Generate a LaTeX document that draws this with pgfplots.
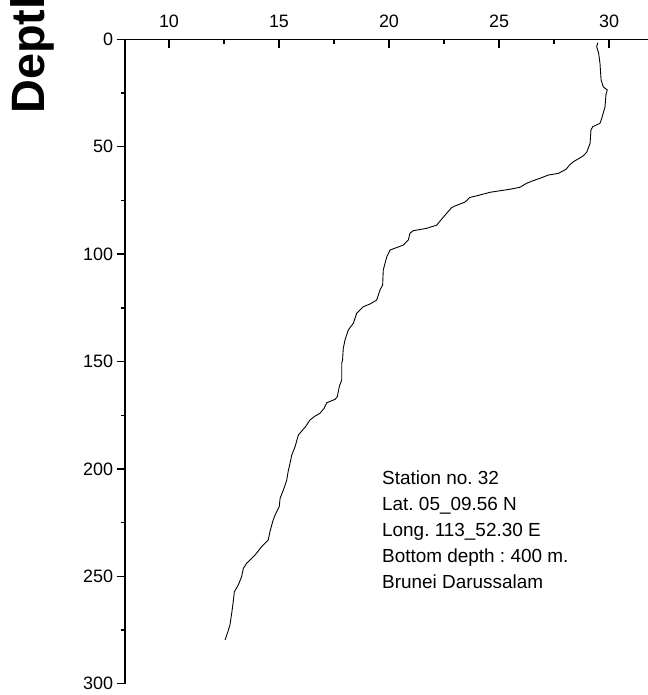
\documentclass[border=0pt]{standalone}
\usepackage{fontspec}
\setmainfont{Liberation Sans}
\usepackage{pgfplots}
\pgfplotsset{compat=1.18}
\usepackage{pgfplotstable}
\frenchspacing

% CTD temperature profile: temperature (deg C) against depth (m)
\pgfplotstableread{
T d
29.49 1.6
29.44 3.4
29.53 6.5
29.59 11.2
29.64 18.9
29.74 22.1
29.92 23.6
29.86 25.9
29.82 31.4
29.67 36.8
29.59 39.1
29.26 40.7
29.18 42.2
29.14 48.4
28.99 52.5
28.83 54.2
28.68 55.2
28.38 57.0
28.20 58.6
28.05 60.5
27.70 62.4
27.24 63.2
26.86 64.7
26.56 65.8
26.26 67.0
25.95 68.9
25.50 69.8
24.60 71.2
24.05 72.7
23.68 73.6
23.45 75.8
23.00 77.6
22.85 78.3
22.62 81.0
22.32 84.6
22.17 86.5
21.71 88.0
21.10 89.1
20.95 90.3
20.88 93.4
20.65 95.8
20.05 98.1
19.90 101.2
19.74 107.4
19.71 114.4
19.59 116.7
19.44 121.4
19.14 123.2
18.83 124.5
18.53 127.6
18.38 132.2
18.15 135.3
18.00 140.0
17.92 144.0
17.89 149.3
17.85 150.8
17.85 158.6
17.74 161.7
17.65 166.4
17.55 167.6
17.17 169.2
17.05 171.8
16.86 174.1
16.64 175.4
16.41 177.2
16.23 180.0
16.10 181.6
15.88 184.2
15.73 189.7
15.58 193.5
15.50 197.4
15.42 201.0
15.35 205.2
15.20 209.8
15.05 213.7
15.01 217.6
14.82 221.5
14.71 224.6
14.59 229.2
14.51 233.1
14.21 236.2
13.91 240.1
13.53 243.9
13.38 246.3
13.30 250.2
13.15 254.0
12.97 257.2
12.92 261.8
12.85 267.2
12.77 272.7
12.70 275.0
12.55 279.6
}\profile

\begin{document}
\begin{tikzpicture}
\begin{scope}
\clip (0,0) rectangle (648bp,-695bp);
% rotated depth label
\node[rotate=90, anchor=base west, inner sep=0pt,
      font=\fontsize{47}{50}\selectfont\bfseries] at (44bp,-114bp) {Depth (m)};
\begin{axis}[
  at={(125bp,-39.3bp)}, anchor=north west,
  scale only axis, width=550bp, height=644.4bp,
  xmin=8, xmax=33, ymin=0, ymax=300,
  y dir=reverse,
  axis x line=top, axis y line=left,
  axis line style={-, line width=1.5bp},
  xtick={10,15,20,25,30}, ytick={0,50,100,150,200,250,300},
  minor x tick num=1, minor y tick num=1,
  xtick align=inside, ytick align=outside,
  major tick length=8.5bp, minor tick length=4.5bp,
  tick style={line width=1.4bp, black},
  /pgf/number format/assume math mode=true,
  tick label style={font=\fontsize{18}{20}\selectfont},
  xticklabel style={yshift=8bp},
  clip=false,
]
\addplot[black, line width=0.9bp] table[x=T, y=d] {\profile};
\node[anchor=north west, align=left, inner sep=0pt,
      font=\fontsize{19}{26}\selectfont] at (axis cs:19.68,201)
  {Station no. 32\\Lat. 05\_09.56 N\\Long. 113\_52.30 E\\Bottom depth : 400 m.\\Brunei Darussalam};
\end{axis}
\end{scope}
\pgfresetboundingbox
\useasboundingbox (0,0) rectangle (648bp,-695bp);
\end{tikzpicture}
\end{document}
